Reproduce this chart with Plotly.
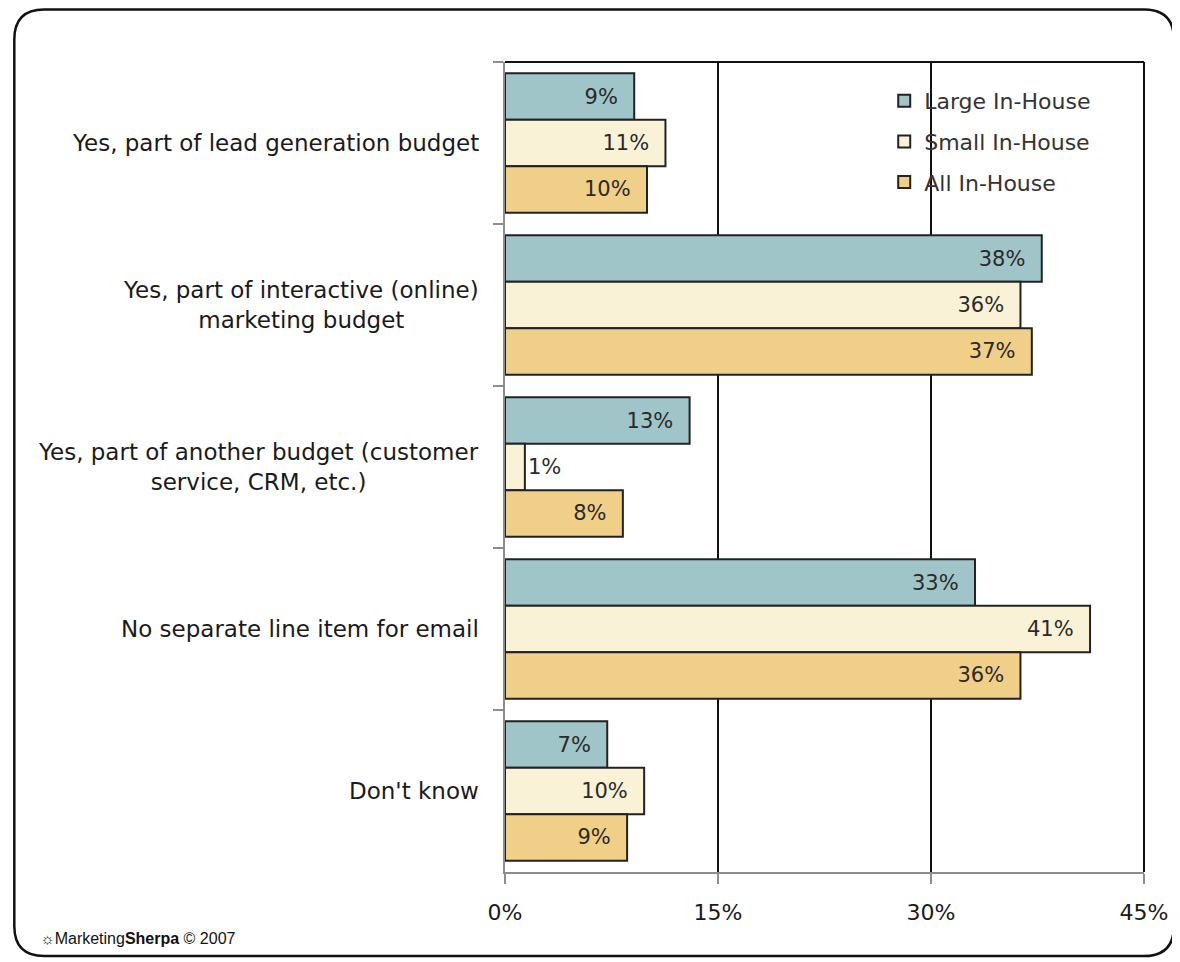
"""Email budget placement by in-house team size, MarketingSherpa 2007."""

import plotly.graph_objects as go

CATEGORIES = [
    "Yes, part of lead generation budget",
    "Yes, part of interactive (online)<br>marketing budget",
    "Yes, part of another budget (customer<br>service, CRM, etc.)",
    "No separate line item for email",
    "Don't know",
]
SERIES = ["Large In-House", "Small In-House", "All In-House"]
LARGE = [9.1, 37.8, 13.0, 33.1, 7.2]
SMALL = [11.3, 36.3, 1.4, 41.2, 9.8]
ALL = [10.0, 37.1, 8.3, 36.3, 8.6]
X_TICKS = [0, 15, 30, 45]

TEAL = "#9FC5C8"
CREAM = "#F9F2D7"
GOLD = "#F0CF88"
EDGE = "#222222"
AXIS = "#8C8C8C"
INK = "#1A1A1A"
FONT = "DejaVu Sans, Verdana, sans-serif"

# page body adds an 8px margin, so the figure is laid out 8px smaller
OFF = 8
W, H = 1180 - OFF, 962 - OFF
L, T = 505 - OFF, 62 - OFF
R, B = W - (1147 - OFF), H - (872 - OFF)
pw, ph = W - L - R, H - T - B


def px(x):
    # screen x (reference pixels) -> paper
    return (x - OFF - L) / pw


def py(y):
    # screen y (reference pixels) -> paper
    return (H - B - (y - OFF)) / ph


fig = go.Figure()
for name, values, color in zip(SERIES, (LARGE, SMALL, ALL), (TEAL, CREAM, GOLD)):
    fig.add_trace(
        go.Bar(
            name=name,
            y=CATEGORIES,
            x=values,
            orientation="h",
            legendgroup=name,
            marker=dict(color=color, line=dict(color=EDGE, width=2)),
            text=[f"{round(v)}%  " for v in values],
            textposition="auto",
            insidetextanchor="end",
            constraintext="none",
            textfont=dict(size=21, color="#2A2A2A", family=FONT),
            outsidetextfont=dict(size=21, color="#2A2A2A", family=FONT),
            cliponaxis=False,
        )
    )

# category labels, centred over multiple lines like the original
for cat in CATEGORIES:
    fig.add_annotation(
        x=-24 / pw,
        xref="paper",
        y=cat,
        yref="y",
        text=cat,
        showarrow=False,
        xanchor="right",
        yanchor="middle",
        align="center",
        font=dict(size=23, color=INK, family=FONT),
    )

# rounded outer frame
x0, x1, y0, y1 = px(12), px(1177), py(956), py(9.5)
rx, ry = 30 / pw, 30 / ph
frame = (
    f"M {x0 + rx},{y1} L {x1 - rx},{y1} Q {x1},{y1} {x1},{y1 - ry} "
    f"L {x1},{y0 + ry} Q {x1},{y0} {x1 - rx},{y0} "
    f"L {x0 + rx},{y0} Q {x0},{y0} {x0},{y0 + ry} "
    f"L {x0},{y1 - ry} Q {x0},{y1} {x0 + rx},{y1} Z"
)
fig.add_shape(type="path", path=frame, xref="paper", yref="paper",
              line=dict(color="#111111", width=2.5), layer="below")
# black top and right border of the plot area
fig.add_shape(type="line", xref="paper", yref="paper", x0=0, x1=1, y0=1, y1=1,
              line=dict(color="#111111", width=2))
fig.add_shape(type="line", xref="paper", yref="paper", x0=1, x1=1, y0=0, y1=1,
              line=dict(color="#111111", width=2))

fig.add_annotation(
    x=px(36), y=py(938), xref="paper", yref="paper",
    text="☼Marketing<b>Sherpa</b> © 2007",
    showarrow=False, xanchor="left", yanchor="middle",
    font=dict(size=16, color="#111111", family="Liberation Sans, Arial, sans-serif"),
)

fig.update_layout(
    width=W,
    height=H,
    margin=dict(l=L, r=R, t=T, b=B),
    paper_bgcolor="white",
    plot_bgcolor="white",
    barmode="group",
    bargap=0.14,
    bargroupgap=0.0,
    font=dict(family=FONT, color=INK),
    showlegend=True,
    legend=dict(
        x=px(886),
        y=py(80),
        xanchor="left",
        yanchor="top",
        traceorder="grouped",
        tracegroupgap=9,
        bgcolor="rgba(0,0,0,0)",
        font=dict(size=22, color="#333333", family=FONT),
        itemwidth=30,
    ),
)
fig.update_xaxes(
    range=[0, 45],
    tickvals=X_TICKS,
    ticktext=[f"{v}%" for v in X_TICKS],
    showgrid=True,
    gridcolor="#111111",
    gridwidth=2,
    zeroline=False,
    showline=True,
    linecolor=AXIS,
    linewidth=2,
    ticks="outside",
    ticklen=10,
    tickwidth=2,
    tickcolor=AXIS,
    ticklabelstandoff=10,
    tickfont=dict(size=22, color=INK, family=FONT),
    fixedrange=True,
)
fig.update_yaxes(
    autorange="reversed",
    showgrid=False,
    showline=True,
    linecolor=AXIS,
    linewidth=2,
    ticks="outside",
    tickson="boundaries",
    ticklen=10,
    tickwidth=2,
    tickcolor=AXIS,
    showticklabels=False,
    fixedrange=True,
)

fig.write_html("out.html")
